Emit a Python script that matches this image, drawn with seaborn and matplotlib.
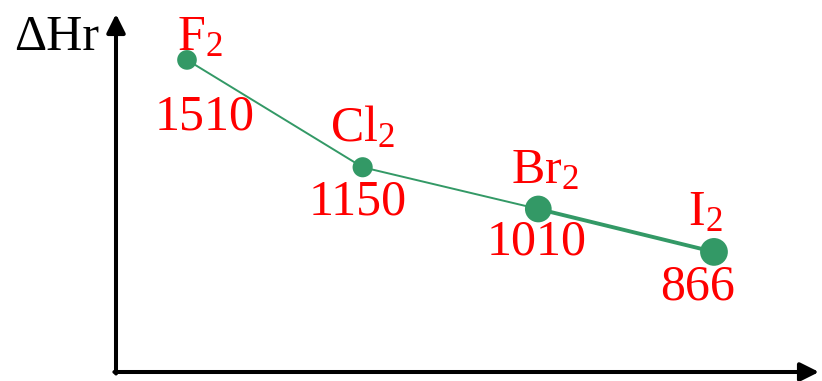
import matplotlib
matplotlib.use("Agg")
import matplotlib.pyplot as plt
import seaborn as sns
import pandas as pd

# Bond dissociation enthalpies of the halogens
molecules = ["F", "Cl", "Br", "I"]
enthalpy = [1510, 1150, 1010, 866]
value_labels = ["1510", "1150", "1010", "866"]
marker_area = [200, 210, 370, 400]

sns.set_theme(style="white")
plt.rcParams["font.family"] = ["Liberation Serif", "DejaVu Serif"]
plt.rcParams["mathtext.fontset"] = "custom"
plt.rcParams["mathtext.rm"] = "Liberation Serif"

df = pd.DataFrame({"pos": range(len(molecules)), "mol": molecules, "dh": enthalpy,
                   "area": marker_area})

green = "#339966"
red = "#ff0000"

fig = plt.figure(figsize=(8.22, 3.81), dpi=100)
ax = fig.add_axes([0, 0, 1, 1])

sns.lineplot(data=df.iloc[:3], x="pos", y="dh", color=green, lw=1.4, ax=ax)
sns.lineplot(data=df.iloc[2:], x="pos", y="dh", color=green, lw=2.8, ax=ax)
ax.scatter(df["pos"], df["dh"], s=df["area"], color=green, zorder=3, linewidths=0)

ax.set_xlim(-1.0645, 3.615)
ax.set_ylim(433, 1711)
ax.axis("off")

name_off = [(13, 10), (0, 26), (7, 26), (-9, 27)]
val_off = [(18, -70), (-5, -47), (-2, -46), (-16, -48)]
for i, (m, v, lab) in enumerate(zip(molecules, enthalpy, value_labels)):
    ax.annotate(r"$\mathrm{%s_2}$" % m, (i, v), xytext=name_off[i],
                textcoords="offset pixels", ha="center", va="baseline",
                fontsize=36, color=red)
    ax.annotate(lab, (i, v), xytext=val_off[i], textcoords="offset pixels",
                ha="center", va="baseline", fontsize=36, color=red)

# axes drawn as arrows
ox, oy = 116 / 822, (381 - 372) / 381
arrow = dict(arrowstyle="-|>", color="black", lw=2.9, mutation_scale=28,
             shrinkA=0, shrinkB=0)
ax.annotate("", xy=(ox, 1 - 14 / 381), xytext=(ox, oy - 0.004),
            xycoords="axes fraction", arrowprops=arrow)
ax.annotate("", xy=(1 - 3 / 822, oy), xytext=(ox - 0.002, oy),
            xycoords="axes fraction", arrowprops=arrow)

ax.text(14 / 822, 1 - 50 / 381, "ΔHr", transform=ax.transAxes, ha="left",
        va="baseline", fontsize=36, color="black")

fig.savefig("out.png", dpi=100)
